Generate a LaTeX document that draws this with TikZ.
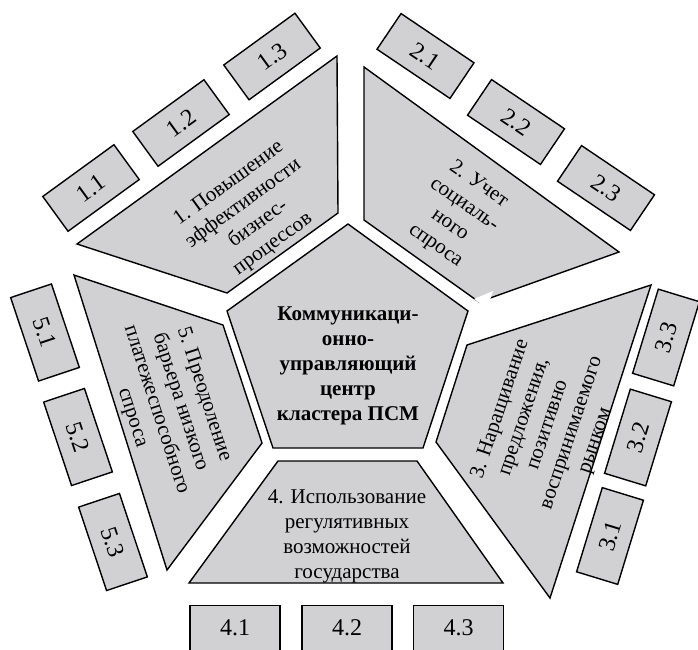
\documentclass[tikz,border=0pt]{standalone}
\usepackage{fontspec}
\setmainfont{Liberation Serif}
\definecolor{boxgray}{RGB}{209,208,211}
\begin{document}
\begin{tikzpicture}[x=1pt,y=-1pt,
  area/.style={draw=black,fill=boxgray,line width=1.4pt,line join=miter},
  txt/.style={align=center,font=\fontsize{21}{25}\selectfont,inner sep=0pt},
  sub/.style={draw=black,fill=boxgray,line width=1.4pt,minimum width=88pt,minimum height=43pt,inner sep=0pt,font=\fontsize{24}{28}\selectfont}]
\useasboundingbox (0,0) rectangle (698,649);
% centre pentagon
\draw[area] (348,224) -- (468,311) -- (423,448) -- (273,448) -- (227,311) -- cycle;
\node[txt,font=\fontsize{21}{25}\selectfont\bfseries] (centre) at (348,366)
  {Коммуникаци-\\онно-\\управляющий\\центр\\кластера ПСМ};
% trapezoids
\draw[area] (77,244) -- (337,56) -- (338,213) -- (227,293) -- cycle;
\node[txt,rotate=36] (t1) at (251,214) {1. Повышение\\эффективности\\бизнес-\\процессов};
\draw[area] (364,67) -- (619,252) -- (479,302) -- (364,220) -- cycle;
\fill[white] (474,299) -- (493,291) -- (487,309) -- cycle;
\node[txt,rotate=-35] (t2) at (457,215) {2. Учет\\социаль-\\ного\\спроса};
\draw[area] (467,345) -- (651,285) -- (550,598) -- (436,442) -- cycle;
\node[txt,rotate=71.5] (t3) at (548,425) {3. Наращивание\\предложения,\\позитивно\\воспринимаемого\\рынком};
\draw[area] (278,461) -- (417,461) -- (503,583) -- (189,583) -- cycle;
\node[txt] (t4) at (347,536) {4. Использование\\регулятивных\\возможностей\\государства};
\draw[area] (74,275) -- (223,325) -- (262,443) -- (167,570) -- cycle;
\node[txt,rotate=-72] (t5) at (168,406) {5. Преодоление\\барьера низкого\\платежеспособного\\спроса};
% sub boxes
\node[sub,rotate=36] (b11) at (91,188) {1.1};
\node[sub,rotate=36] (b12) at (181,123) {1.2};
\node[sub,rotate=36] (b13) at (272,56.5) {1.3};
\node[sub,rotate=-34] (b21) at (425.5,56) {2.1};
\node[sub,rotate=-34] (b22) at (516,122) {2.2};
\node[sub,rotate=-34] (b23) at (606,188) {2.3};
\node[sub,rotate=73] (b31) at (610,536) {3.1};
\node[sub,rotate=73] (b32) at (638,437.5) {3.2};
\node[sub,rotate=73] (b33) at (666,337.5) {3.3};
\node[sub,minimum width=90pt,minimum height=46pt,anchor=north] (b41) at (235,605) {\raisebox{3pt}{4.1}};
\node[sub,minimum width=90pt,minimum height=46pt,anchor=north] (b42) at (347,605) {\raisebox{3pt}{4.2}};
\node[sub,minimum width=90pt,minimum height=46pt,anchor=north] (b43) at (458.5,605) {\raisebox{3pt}{4.3}};
\node[sub,rotate=-71.5] (b51) at (45,332.5) {5.1};
\node[sub,rotate=-71.5] (b52) at (78,437) {5.2};
\node[sub,rotate=-71.5] (b53) at (113,542) {5.3};
\end{tikzpicture}
\end{document}
